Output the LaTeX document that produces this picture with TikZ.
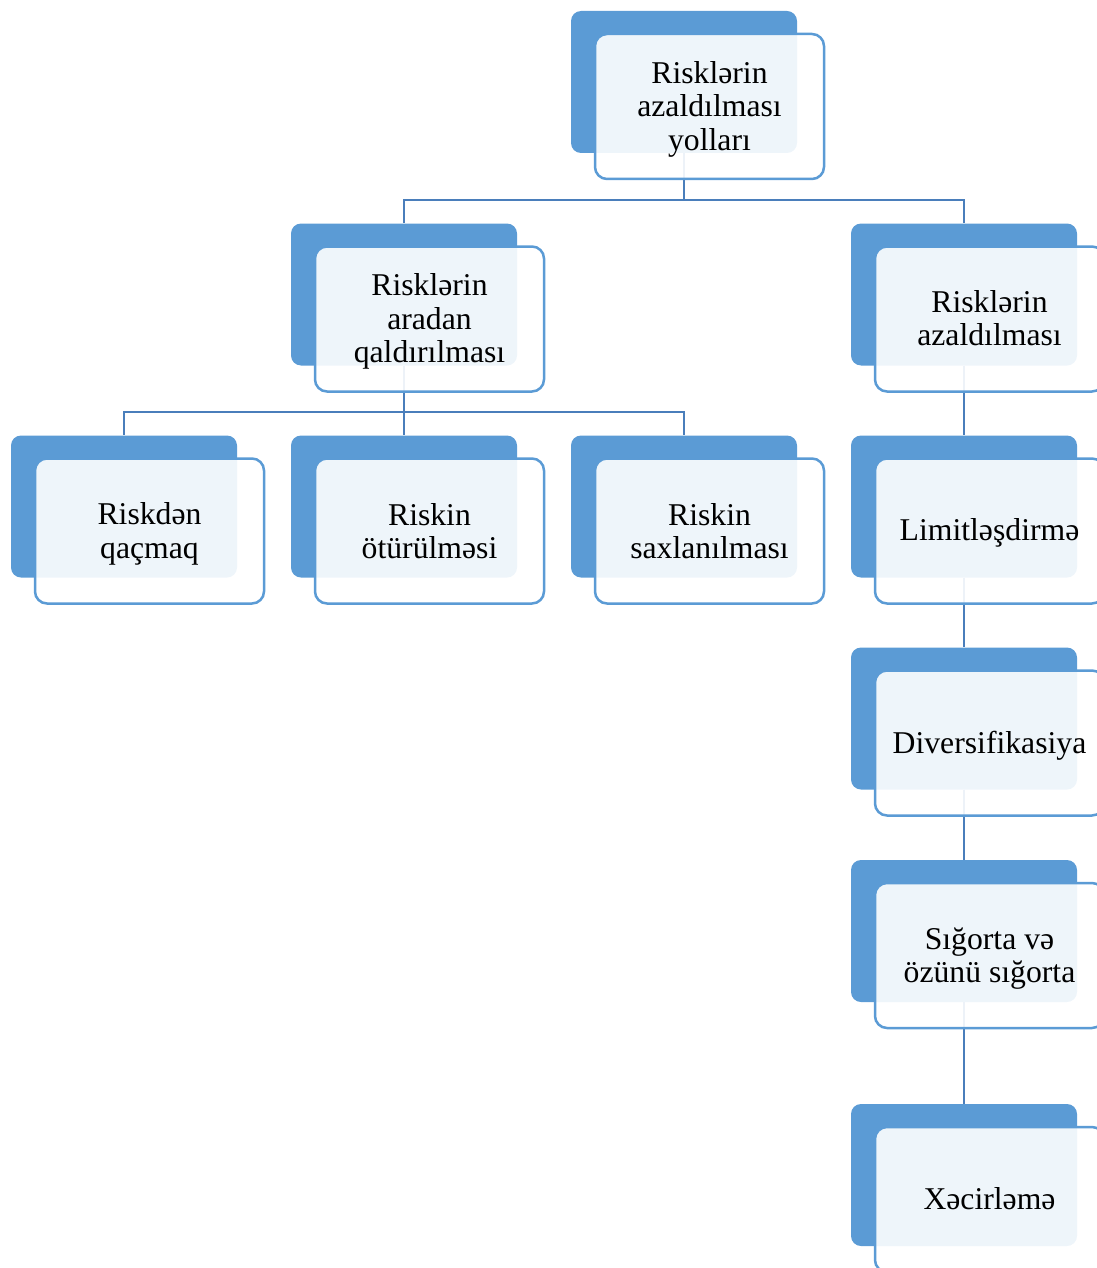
\documentclass[tikz,border=0pt]{standalone}
\usepackage{fontspec}
\setmainfont{Liberation Serif}
\usetikzlibrary{positioning}
\definecolor{boxblue}{HTML}{5B9BD5}
\definecolor{lineblue}{HTML}{4A7EBB}
\tikzset{
	backbox/.style = {rectangle, rounded corners = 10pt, fill = boxblue, minimum width = 226pt, minimum height = 142pt, inner sep = 0pt},
	frontbox/.style = {rectangle, rounded corners = 12pt, draw = boxblue, line width = 2.5pt, fill = white, fill opacity = 0.9,
		minimum width = 229pt, minimum height = 145pt, inner sep = 0pt},
	boxtext/.style = {align = center, inner sep = 0pt, font = \fontsize{31.7}{33.5}\selectfont},
	conn/.style = {lineblue, line width = 2pt},
}
\begin{document}
\begin{tikzpicture}[x = 1pt, y = -1pt]
		\useasboundingbox (0,0) rectangle (1096,1268);
		%
		% back boxes
		\node[backbox] (yollar) at (684,82) {};
		\node[backbox] (aradan) at (404,294.5) {};
		\node[backbox] (azald) at (964,294.5) {};
		\node[backbox] (qacmaq) at (124,506.5) {};
		\node[backbox] (oturme) at (404,506.5) {};
		\node[backbox] (saxlama) at (684,506.5) {};
		\node[backbox] (limit) at (964,506.5) {};
		\node[backbox] (divers) at (964,718.5) {};
		\node[backbox] (sigorta) at (964,931) {};
		\node[backbox] (hecir) at (964,1175) {};
		%
		% connectors
		\draw[conn] (yollar.south) -- ++(0,47) coordinate (j1);
		\draw[conn] (j1) -| (aradan.north);
		\draw[conn] (j1) -| (azald.north);
		\draw[conn] (aradan.south) -- ++(0,46) coordinate (j2);
		\draw[conn] (j2) -| (qacmaq.north);
		\draw[conn] (j2) -- (oturme.north);
		\draw[conn] (j2) -| (saxlama.north);
		\draw[conn] (azald.south) -- (limit.north);
		\draw[conn] (limit.south) -- (divers.north);
		\draw[conn] (divers.south) -- (sigorta.north);
		\draw[conn] (sigorta.south) -- (hecir.north);
		%
		% front boxes
		\node[frontbox] (yollarF) at ([shift = {(25.5,24.5)}]yollar.center) {};
		\node[frontbox] (aradanF) at ([shift = {(25.5,24.5)}]aradan.center) {};
		\node[frontbox] (azaldF) at ([shift = {(25.5,24.5)}]azald.center) {};
		\node[frontbox] (qacmaqF) at ([shift = {(25.5,24.5)}]qacmaq.center) {};
		\node[frontbox] (oturmeF) at ([shift = {(25.5,24.5)}]oturme.center) {};
		\node[frontbox] (saxlamaF) at ([shift = {(25.5,24.5)}]saxlama.center) {};
		\node[frontbox] (limitF) at ([shift = {(25.5,24.5)}]limit.center) {};
		\node[frontbox] (diversF) at ([shift = {(25.5,24.5)}]divers.center) {};
		\node[frontbox] (sigortaF) at ([shift = {(25.5,24.5)}]sigorta.center) {};
		\node[frontbox] (hecirF) at ([shift = {(25.5,24.5)}]hecir.center) {};
		%
		% texts (negative yshift moves down)
		\node[boxtext] (yollarT) at ([yshift = -2.5]yollarF.center) {Risklərin\\azaldılması\\yolları};
		\node[boxtext] (aradanT) at ([yshift = -2.5]aradanF.center) {Risklərin\\aradan\\qaldırılması};
		\node[boxtext] (azaldT) at ([yshift = 1]azaldF.center) {Risklərin\\azaldılması};
		\node[boxtext] (qacmaqT) at ([yshift = -3]qacmaqF.center) {Riskdən\\qaçmaq};
		\node[boxtext] (oturmeT) at (oturmeF.center) {Riskin\\ötürülməsi};
		\node[boxtext] (saxlamaT) at (saxlamaF.center) {Riskin\\saxlanılması};
		\node[boxtext] (limitT) at ([yshift = -2]limitF.center) {Limitləşdirmə};
		\node[boxtext] (diversT) at ([yshift = -3]diversF.center) {Diversifikasiya};
		\node[boxtext] (sigortaT) at ([yshift = -3]sigortaF.center) {Sığorta və\\özünü sığorta};
		\node[boxtext] (hecirT) at ([yshift = 1]hecirF.center) {Xəcirləmə};
		%
	\end{tikzpicture}
\end{document}
